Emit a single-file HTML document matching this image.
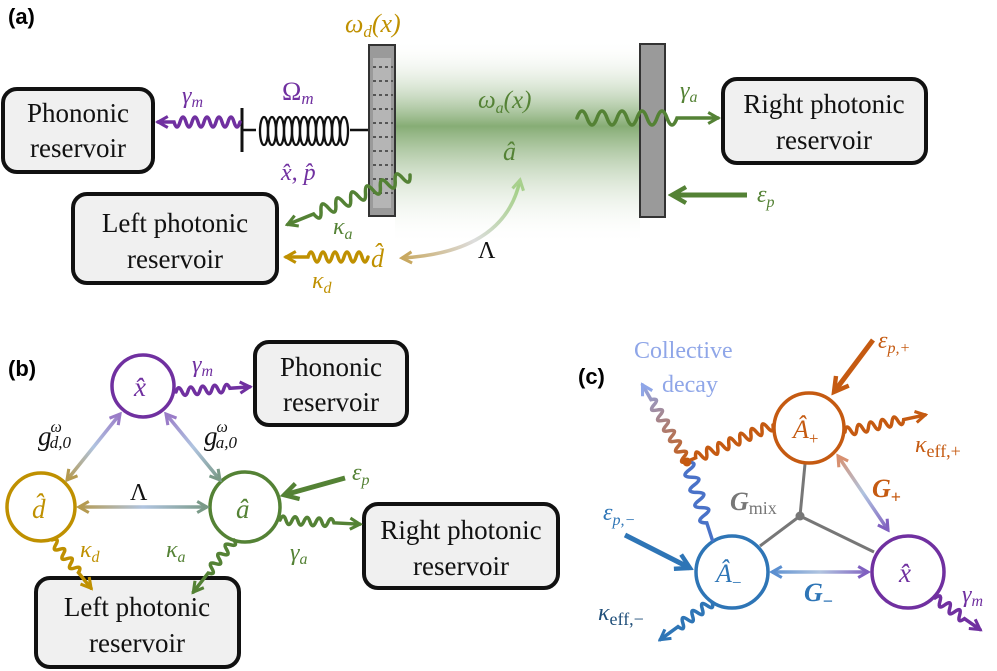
<!DOCTYPE html>
<html><head><meta charset="utf-8"><style>
html,body{margin:0;padding:0;background:#fff}
svg{display:block}
text{font-family:"Liberation Serif",serif}
.m{font-style:italic}
.b{font-family:"Liberation Sans",sans-serif;font-weight:bold;font-size:22px}
.box{fill:#f0f0f0;stroke:#111;stroke-width:4}
.bt{font-size:27px;fill:#111;text-anchor:middle}
.w{fill:none;stroke-width:3.5;stroke-linecap:round}
</style></head><body>
<svg width="997" height="671" viewBox="0 0 997 671" xmlns="http://www.w3.org/2000/svg">
<defs>
<linearGradient id="cav" x1="0" y1="40" x2="0" y2="245" gradientUnits="userSpaceOnUse">
<stop offset="0" stop-color="#fff" stop-opacity="0"/><stop offset="0.42" stop-color="#5e9147" stop-opacity="0.75"/><stop offset="1" stop-color="#fff" stop-opacity="0"/></linearGradient>
<linearGradient id="lam" x1="520" y1="180" x2="400" y2="258" gradientUnits="userSpaceOnUse"><stop offset="0" stop-color="#9fcf80"/><stop offset="0.5" stop-color="#ddd"/><stop offset="1" stop-color="#c8a860"/></linearGradient>
<linearGradient id="gd" x1="120" y1="414" x2="67" y2="480" gradientUnits="userSpaceOnUse"><stop offset="0" stop-color="#9a7cc8"/><stop offset=".5" stop-color="#b0c4e0"/><stop offset="1" stop-color="#b59a50"/></linearGradient>
<linearGradient id="ga" x1="166" y1="414" x2="220" y2="480" gradientUnits="userSpaceOnUse"><stop offset="0" stop-color="#9a7cc8"/><stop offset=".5" stop-color="#b0c4e0"/><stop offset="1" stop-color="#7a9a88"/></linearGradient>
<linearGradient id="gl" x1="79" y1="0" x2="207" y2="0" gradientUnits="userSpaceOnUse"><stop offset="0" stop-color="#b59a50"/><stop offset=".5" stop-color="#b0c4e0"/><stop offset="1" stop-color="#7a9a88"/></linearGradient>
<linearGradient id="gp" x1="838" y1="455" x2="890" y2="530" gradientUnits="userSpaceOnUse"><stop offset="0" stop-color="#d89070"/><stop offset=".5" stop-color="#b0c4e0"/><stop offset="1" stop-color="#8060c0"/></linearGradient>
<linearGradient id="gm" x1="770" y1="0" x2="870" y2="0" gradientUnits="userSpaceOnUse"><stop offset="0" stop-color="#5b8fd0"/><stop offset=".5" stop-color="#b0c4e0"/><stop offset="1" stop-color="#8060c0"/></linearGradient>
<linearGradient id="gc" x1="0" y1="0" x2="89" y2="0" gradientUnits="userSpaceOnUse"><stop offset="0" stop-color="#c55a11"/><stop offset="1" stop-color="#8fa6e8"/></linearGradient>
<marker id="ap" viewBox="0 0 10 10" refX="8" refY="5" markerWidth="4" markerHeight="4" orient="auto-start-reverse"><path d="M1 1L8 5L1 9" fill="none" stroke="#7030a0" stroke-width="2.2"/></marker>
<marker id="ag" viewBox="0 0 10 10" refX="8" refY="5" markerWidth="4" markerHeight="4" orient="auto-start-reverse"><path d="M1 1L8 5L1 9" fill="none" stroke="#548235" stroke-width="2.2"/></marker>
<marker id="ay" viewBox="0 0 10 10" refX="8" refY="5" markerWidth="4" markerHeight="4" orient="auto-start-reverse"><path d="M1 1L8 5L1 9" fill="none" stroke="#bf9000" stroke-width="2.2"/></marker>
<marker id="ao" viewBox="0 0 10 10" refX="8" refY="5" markerWidth="4" markerHeight="4" orient="auto-start-reverse"><path d="M1 1L8 5L1 9" fill="none" stroke="#c55a11" stroke-width="2.2"/></marker>
<marker id="abl" viewBox="0 0 10 10" refX="8" refY="5" markerWidth="4" markerHeight="4" orient="auto-start-reverse"><path d="M1 1L8 5L1 9" fill="none" stroke="#2e75b6" stroke-width="2.2"/></marker>
<marker id="alb" viewBox="0 0 10 10" refX="8" refY="5" markerWidth="4" markerHeight="4" orient="auto-start-reverse"><path d="M1 1L8 5L1 9" fill="none" stroke="#8fa6e8" stroke-width="2.2"/></marker>
<marker id="ag2" viewBox="0 0 10 10" refX="8" refY="5" markerWidth="4" markerHeight="4" orient="auto-start-reverse"><path d="M1 1L8 5L1 9" fill="none" stroke="#a8d08d" stroke-width="2.2"/></marker>
<marker id="ay2" viewBox="0 0 10 10" refX="8" refY="5" markerWidth="4" markerHeight="4" orient="auto-start-reverse"><path d="M1 1L8 5L1 9" fill="none" stroke="#c8a860" stroke-width="2.2"/></marker>
<marker id="apl" viewBox="0 0 10 10" refX="8" refY="5" markerWidth="4" markerHeight="4" orient="auto-start-reverse"><path d="M1 1L8 5L1 9" fill="none" stroke="#9a7cc8" stroke-width="2.2"/></marker>
<marker id="agr" viewBox="0 0 10 10" refX="8" refY="5" markerWidth="4" markerHeight="4" orient="auto-start-reverse"><path d="M1 1L8 5L1 9" fill="none" stroke="#7a9a88" stroke-width="2.2"/></marker>
<marker id="ayb" viewBox="0 0 10 10" refX="8" refY="5" markerWidth="4" markerHeight="4" orient="auto-start-reverse"><path d="M1 1L8 5L1 9" fill="none" stroke="#b59a50" stroke-width="2.2"/></marker>
<marker id="aor" viewBox="0 0 10 10" refX="8" refY="5" markerWidth="4" markerHeight="4" orient="auto-start-reverse"><path d="M1 1L8 5L1 9" fill="none" stroke="#d89070" stroke-width="2.2"/></marker>
<marker id="amb" viewBox="0 0 10 10" refX="8" refY="5" markerWidth="4" markerHeight="4" orient="auto-start-reverse"><path d="M1 1L8 5L1 9" fill="none" stroke="#5b8fd0" stroke-width="2.2"/></marker>
<marker id="avi" viewBox="0 0 10 10" refX="8" refY="5" markerWidth="4" markerHeight="4" orient="auto-start-reverse"><path d="M1 1L8 5L1 9" fill="none" stroke="#8060c0" stroke-width="2.2"/></marker>
</defs>

<!-- ===== (a) ===== -->
<text x="8" y="24" class="b">(a)</text>
<rect x="395" y="40" width="245" height="205" fill="url(#cav)"/>
<rect x="3" y="89" width="150" height="83" rx="14" class="box"/>
<text x="78" y="122" class="bt">Phononic</text><text x="78" y="157" class="bt">reservoir</text>
<rect x="73" y="194" width="204" height="89" rx="14" class="box"/>
<text x="175" y="232" class="bt">Left photonic</text><text x="175" y="268" class="bt">reservoir</text>
<rect x="723" y="79" width="203" height="84" rx="14" class="box"/>
<text x="824" y="113" class="bt">Right photonic</text><text x="824" y="149" class="bt">reservoir</text>
<line x1="242" y1="108" x2="242" y2="152" stroke="#111" stroke-width="3"/>
<path d="M242 130H256M350 130H369" stroke="#111" stroke-width="2.5" fill="none"/>
<g fill="none" stroke="#111" stroke-width="2.3">
<ellipse cx="264" cy="131" rx="4" ry="14"/><ellipse cx="272" cy="131" rx="4" ry="14"/><ellipse cx="280" cy="131" rx="4" ry="14"/><ellipse cx="288" cy="131" rx="4" ry="14"/><ellipse cx="296" cy="131" rx="4" ry="14"/><ellipse cx="304" cy="131" rx="4" ry="14"/><ellipse cx="312" cy="131" rx="4" ry="14"/><ellipse cx="320" cy="131" rx="4" ry="14"/><ellipse cx="328" cy="131" rx="4" ry="14"/><ellipse cx="336" cy="131" rx="4" ry="14"/><ellipse cx="344" cy="131" rx="4" ry="14"/>
</g>
<rect x="369" y="45" width="26" height="171" fill="#9a9a9a" stroke="#333" stroke-width="2"/>
<rect x="373" y="58" width="18" height="150" fill="#b5b5b5"/>
<g stroke="#555" stroke-width="2" stroke-dasharray="3 3">
<path d="M373 67H393M373 81H393M373 95H393M373 109H393M373 123H393M373 137H393M373 151H393M373 165H393M373 179H393M373 193H393"/></g>
<rect x="640" y="44" width="25" height="173" fill="#9a9a9a" stroke="#333" stroke-width="2"/>
<g transform="translate(240,122) rotate(180)"><path class="w" stroke="#7030a0" marker-end="url(#ap)" d="M0 0q3 -10 6 0t6 0t6 0t6 0t6 0t6 0t6 0t6 0t6 0t6 0t6 0h16"/></g>
<g transform="translate(410,175) rotate(158)"><path class="w" stroke="#548235" marker-end="url(#ag)" d="M0 0q4 -12 8 0t8 0t8 0t8 0t8 0t8 0t8 0t8 0t8 0t8 0t8 0t8 0t8 0h28"/></g>
<g transform="translate(368,257) rotate(180)"><path class="w" stroke="#bf9000" marker-end="url(#ay)" d="M0 0q3 -10 6 0t6 0t6 0t6 0t6 0t6 0t6 0t6 0t6 0t6 0h22"/></g>
<g transform="translate(577,118)"><path class="w" stroke="#548235" marker-end="url(#ag)" d="M0 0q5 -14 10 0t10 0t10 0t10 0t10 0t10 0t10 0t10 0t10 0t10 0h41"/></g>
<line x1="747" y1="195" x2="672" y2="195" stroke="#548235" stroke-width="5" marker-end="url(#ag)"/>
<path d="M520 180Q505 252 402 258" fill="none" stroke="url(#lam)" stroke-width="3.5" marker-start="url(#ag2)" marker-end="url(#ay2)"/>
<text x="345" y="32" class="m" font-size="26" fill="#bf9000">ω<tspan font-size="17" dy="5">d</tspan><tspan dy="-5">(x)</tspan></text>
<text x="478" y="108" class="m" font-size="25" fill="#548235">ω<tspan font-size="16" dy="5">a</tspan><tspan dy="-5">(x)</tspan></text>
<text x="503" y="160" class="m" font-size="26" fill="#548235">â</text>
<text x="182" y="103" class="m" font-size="24" fill="#7030a0">γ<tspan font-size="16" dy="4">m</tspan></text>
<text x="282" y="100" font-size="26" fill="#7030a0">Ω<tspan class="m" font-size="17" dy="4">m</tspan></text>
<text x="281" y="180" class="m" font-size="24" fill="#7030a0">x̂, p̂</text>
<text x="333" y="234" class="m" font-size="24" fill="#548235">κ<tspan font-size="16" dy="5">a</tspan></text>
<text x="371" y="267" class="m" font-size="26" fill="#bf9000">d̂</text>
<text x="312" y="288" class="m" font-size="24" fill="#bf9000">κ<tspan font-size="16" dy="5">d</tspan></text>
<text x="478" y="258" font-size="24" fill="#111">Λ</text>
<text x="680" y="98" class="m" font-size="24" fill="#548235">γ<tspan font-size="16" dy="4">a</tspan></text>
<text x="757" y="202" class="m" font-size="24" fill="#548235">ε<tspan font-size="16" dy="5">p</tspan></text>

<!-- ===== (b) ===== -->
<text x="8" y="376" class="b">(b)</text>
<rect x="255" y="342" width="152" height="83" rx="14" class="box"/>
<text x="331" y="376" class="bt">Phononic</text><text x="331" y="411" class="bt">reservoir</text>
<rect x="364" y="504" width="194" height="84" rx="14" class="box"/>
<text x="461" y="539" class="bt">Right photonic</text><text x="461" y="575" class="bt">reservoir</text>
<rect x="36" y="578" width="203" height="89" rx="14" class="box"/>
<text x="137" y="616" class="bt">Left photonic</text><text x="137" y="652" class="bt">reservoir</text>
<circle cx="143" cy="386" r="31" fill="#fff" stroke="#7030a0" stroke-width="3.5"/>
<circle cx="41" cy="507" r="34" fill="#fff" stroke="#bf9000" stroke-width="3.5"/>
<circle cx="245" cy="507" r="35" fill="#fff" stroke="#548235" stroke-width="3.5"/>
<text x="134" y="396" class="m" font-size="27" fill="#7030a0">x̂</text>
<text x="32" y="518" class="m" font-size="27" fill="#bf9000">d̂</text>
<text x="236" y="518" class="m" font-size="27" fill="#548235">â</text>
<line x1="120" y1="414" x2="67" y2="480" stroke="url(#gd)" stroke-width="3.5" marker-start="url(#apl)" marker-end="url(#ayb)"/>
<line x1="166" y1="414" x2="220" y2="480" stroke="url(#ga)" stroke-width="3.5" marker-start="url(#apl)" marker-end="url(#agr)"/>
<line x1="79" y1="507" x2="207" y2="507" stroke="url(#gl)" stroke-width="3.5" marker-start="url(#ayb)" marker-end="url(#agr)"/>
<line x1="345" y1="478" x2="284" y2="495" stroke="#548235" stroke-width="5" marker-end="url(#ag)"/>
<g transform="translate(176,392) rotate(-4)"><path class="w" stroke="#7030a0" marker-end="url(#ap)" d="M0 0q3 -8 6 0t6 0t6 0t6 0t6 0t6 0t6 0t6 0t6 0h20"/></g>
<g transform="translate(280,520) rotate(3)"><path class="w" stroke="#548235" marker-end="url(#ag)" d="M0 0q3 -8 6 0t6 0t6 0t6 0t6 0t6 0t6 0t6 0t6 0h26"/></g>
<g transform="translate(234,540) rotate(128)"><path class="w" stroke="#548235" marker-end="url(#ag)" d="M0 0q3 -8 6 0t6 0t6 0t6 0t6 0t6 0t6 0h24"/></g>
<g transform="translate(52,540) rotate(51)"><path class="w" stroke="#bf9000" marker-end="url(#ay)" d="M0 0q3 -8 6 0t6 0t6 0t6 0t6 0t6 0t6 0h20"/></g>
<text x="192" y="372" class="m" font-size="24" fill="#7030a0">γ<tspan font-size="16" dy="4">m</tspan></text>
<text x="38" y="445" class="m" font-size="27" fill="#111">g<tspan font-size="16" dy="-13" dx="-1">ω</tspan><tspan font-size="17" dy="16" dx="-12">d,0</tspan></text>
<text x="204" y="445" class="m" font-size="27" fill="#111">g<tspan font-size="16" dy="-13" dx="-1">ω</tspan><tspan font-size="17" dy="16" dx="-12">a,0</tspan></text>
<text x="130" y="500" font-size="24" fill="#111">Λ</text>
<text x="352" y="480" class="m" font-size="24" fill="#548235">ε<tspan font-size="16" dy="5">p</tspan></text>
<text x="80" y="557" class="m" font-size="24" fill="#bf9000">κ<tspan font-size="16" dy="5">d</tspan></text>
<text x="166" y="557" class="m" font-size="24" fill="#548235">κ<tspan font-size="16" dy="5">a</tspan></text>
<text x="290" y="560" class="m" font-size="24" fill="#548235">γ<tspan font-size="16" dy="4">a</tspan></text>

<!-- ===== (c) ===== -->
<text x="578" y="384" class="b">(c)</text>
<text x="634" y="358" font-size="24" fill="#8fa6e8">Collective</text>
<text x="662" y="392" font-size="24" fill="#8fa6e8">decay</text>
<path d="M800 516L805 464M800 516L760 546M800 516L874 552" stroke="#777" stroke-width="3" fill="none"/>
<circle cx="800" cy="516" r="4.5" fill="#777"/>
<circle cx="809" cy="428" r="35" fill="#fff" stroke="#c55a11" stroke-width="3.5"/>
<circle cx="732" cy="572" r="36" fill="#fff" stroke="#2e75b6" stroke-width="3.5"/>
<circle cx="908" cy="572" r="36" fill="#fff" stroke="#7030a0" stroke-width="3.5"/>
<text x="793" y="438" class="m" font-size="26" fill="#c55a11">Â<tspan font-size="17" dy="6" font-style="normal">+</tspan></text>
<text x="716" y="582" class="m" font-size="26" fill="#2e75b6">Â<tspan font-size="17" dy="6" font-style="normal">−</tspan></text>
<text x="899" y="582" class="m" font-size="27" fill="#7030a0">x̂</text>
<line x1="873" y1="340" x2="834" y2="392" stroke="#c55a11" stroke-width="5" marker-end="url(#ao)"/>
<line x1="625" y1="535" x2="690" y2="568" stroke="#2e75b6" stroke-width="5" marker-end="url(#abl)"/>
<line x1="838" y1="456" x2="888" y2="530" stroke="url(#gp)" stroke-width="3.5" marker-start="url(#aor)" marker-end="url(#avi)"/>
<line x1="772" y1="572" x2="868" y2="572" stroke="url(#gm)" stroke-width="3.5" marker-start="url(#amb)" marker-end="url(#avi)"/>
<g transform="translate(845,432) rotate(-12)"><path class="w" stroke="#c55a11" marker-end="url(#ao)" d="M0 0q3 -9 6 0t6 0t6 0t6 0t6 0t6 0t6 0t6 0t6 0t6 0h22"/></g>
<g transform="translate(773,425) rotate(157)"><path class="w" stroke="#c55a11" d="M0 0q3 -10 6 0t6 0t6 0t6 0t6 0t6 0t6 0t6 0t6 0t6 0t6 0t6 0t6 0t6 0h10"/></g>
<g transform="translate(687,462) rotate(72)"><path class="w" stroke="#4a72c8" d="M0 0q4 -12 8 0t8 0t8 0t8 0t8 0t8 0t8 0t8 0h18"/></g>
<g transform="translate(687,462) rotate(-120)"><path class="w" stroke="url(#gc)" marker-end="url(#alb)" d="M0 0q3 -9 6 0t6 0t6 0t6 0t6 0t6 0t6 0t6 0t6 0t6 0t6 0t6 0h17"/></g>
<circle cx="687" cy="462" r="4.5" fill="#c55a11"/>
<g transform="translate(712,602) rotate(144)"><path class="w" stroke="#2e75b6" marker-end="url(#abl)" d="M0 0q3 -9 6 0t6 0t6 0t6 0t6 0t6 0t6 0h22"/></g>
<g transform="translate(935,598) rotate(35)"><path class="w" stroke="#7030a0" marker-end="url(#ap)" d="M0 0q3 -9 6 0t6 0t6 0t6 0t6 0t6 0h19"/></g>
<text x="878" y="348" class="m" font-size="24" fill="#c55a11">ε<tspan font-size="16" dy="5">p,+</tspan></text>
<text x="915" y="452" class="m" font-size="24" fill="#c55a11">κ<tspan font-size="18" dy="5" font-style="normal">eff,+</tspan></text>
<text x="872" y="497" class="m" font-size="26" font-weight="bold" fill="#c55a11">G<tspan font-size="18" dy="6" font-style="normal">+</tspan></text>
<text x="730" y="510" class="m" font-size="26" font-weight="bold" fill="#777">G<tspan font-size="18" dy="4" font-style="normal" font-weight="normal">mix</tspan></text>
<text x="603" y="520" class="m" font-size="24" fill="#2e75b6">ε<tspan font-size="16" dy="5">p,−</tspan></text>
<text x="804" y="601" class="m" font-size="26" font-weight="bold" fill="#2e75b6">G<tspan font-size="18" dy="6" font-style="normal">−</tspan></text>
<text x="598" y="620" class="m" font-size="24" fill="#1f4e79">κ<tspan font-size="18" dy="5" font-style="normal">eff,−</tspan></text>
<text x="962" y="602" class="m" font-size="24" fill="#7030a0">γ<tspan font-size="16" dy="4">m</tspan></text>
</svg>
</body></html>
